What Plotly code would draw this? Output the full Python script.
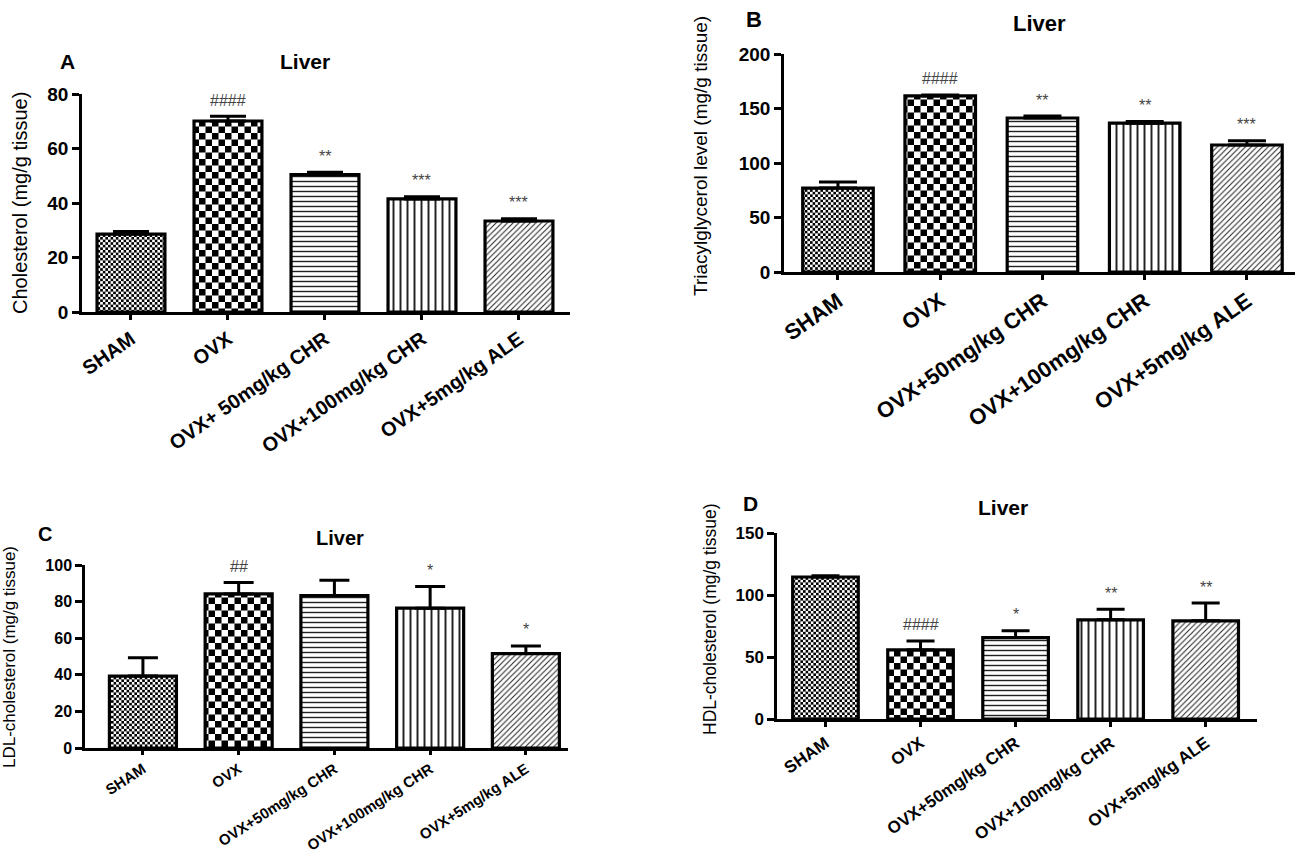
import plotly.graph_objects as go

# ---------------- data ----------------
groups_A = ["SHAM", "OVX", "OVX+ 50mg/kg CHR", "OVX+100mg/kg CHR", "OVX+5mg/kg ALE"]
groups_B = ["SHAM", "OVX", "OVX+50mg/kg CHR", "OVX+100mg/kg CHR", "OVX+5mg/kg ALE"]
groups_C = ["SHAM", "OVX", "OVX+50mg/kg CHR", "OVX+100mg/kg CHR", "OVX+5mg/kg ALE"]
groups_D = ["SHAM", "OVX", "OVX+50mg/kg CHR", "OVX+100mg/kg CHR", "OVX+5mg/kg ALE"]

chol_mean = [28.6, 70.1, 50.4, 41.5, 33.4]
chol_sem = [0.9, 1.7, 0.9, 0.8, 0.8]
tag_mean = [77.0, 161.5, 141.3, 136.5, 116.5]
tag_sem = [5.6, 0.9, 1.8, 1.5, 4.0]
ldl_mean = [39.3, 84.2, 83.3, 76.4, 51.6]
ldl_sem = [10.0, 6.2, 8.4, 11.8, 4.2]
hdl_mean = [114.5, 55.7, 65.7, 80.0, 79.2]
hdl_sem = [1.0, 7.3, 5.4, 8.6, 14.3]

sig_A = ["", "####", "**", "***", "***"]
sig_B = ["", "####", "**", "**", "***"]
sig_C = ["", "##", "", "*", "*"]
sig_D = ["", "####", "*", "**", "**"]

panel_letters = ["A", "B", "C", "D"]
panel_titles = ["Liver", "Liver", "Liver", "Liver"]
y_titles = ["Cholesterol (mg/g tissue)",
            "Triacylglycerol level (mg/g tissue)",
            "LDL-cholesterol (mg/g tissue)",
            "HDL-cholesterol (mg/g tissue)"]
y_ranges = [[0, 80], [0, 200], [0, 100], [0, 150]]
y_dticks = [20, 50, 20, 50]

W, H = 1307, 860

def px_x(p):
    return p / W

def px_y(p):
    return 1 - p / H

# layout styles per panel (pixel geometry)
panels = [
    dict(cats=groups_A, mean=chol_mean, sem=chol_sem, sig=sig_A,
         x0=82, x1=570, ytop=94, ybot=312, xr=[-0.505, 4.526], bw=0.70, cap=18,
         yfs=19, xfs=20, ang=-35, tl=5, letter=(67, 62), title=(305, 62), tfs=21,
         ytitle=(20, 203), ytfs=20),
    dict(cats=groups_B, mean=tag_mean, sem=tag_sem, sig=sig_B,
         x0=784, x1=1295, ytop=54, ybot=272, xr=[-0.528, 4.47], bw=0.69, cap=19,
         yfs=19, xfs=22, ang=-35, tl=5, letter=(754, 19), title=(1039, 23), tfs=22,
         ytitle=(700, 156), ytfs=19),
    dict(cats=groups_C, mean=ldl_mean, sem=ldl_sem, sig=sig_C,
         x0=85, x1=568, ytop=565, ybot=748, xr=[-0.605, 4.44], bw=0.70, cap=15,
         yfs=16, xfs=15, ang=-33, tl=4, letter=(45, 534), title=(340, 538), tfs=20,
         ytitle=(9, 657), ytfs=17),
    dict(cats=groups_D, mean=hdl_mean, sem=hdl_sem, sig=sig_D,
         x0=777, x1=1257, ytop=533, ybot=719, xr=[-0.51, 4.54], bw=0.69, cap=14,
         yfs=17, xfs=17, ang=-35, tl=5, letter=(750, 503), title=(1003, 507), tfs=21,
         ytitle=(710, 620), ytfs=17.5),
]

pat_shapes = ["x", "+", "-", "|", "/"]
pat_sizes = [4, 12, 5, 7, 4]
pat_solid = [0.5, 0.5, 0.28, 0.28, 0.25]

fig = go.Figure()
annotations = []
FONT = "Arial, Liberation Sans, sans-serif"

for i, p in enumerate(panels):
    n = "" if i == 0 else str(i + 1)
    xa, ya = "x" + n, "y" + n
    fig.add_trace(go.Bar(
        x=p["cats"], y=p["mean"], width=p["bw"],
        xaxis=xa, yaxis=ya, showlegend=False,
        marker=dict(color="white",
                    line=dict(color="black", width=3.2),
                    pattern=dict(shape=pat_shapes, size=pat_sizes,
                                 solidity=pat_solid, fgcolor="#222",
                                 bgcolor="white", fillmode="replace")),
        error_y=dict(type="data", symmetric=False, array=p["sem"],
                     arrayminus=[0] * len(p["sem"]), color="black",
                     thickness=3, width=p["cap"]),
    ))
    axis_common = dict(showline=True, linecolor="black", linewidth=2.5,
                       showgrid=False, zeroline=False, ticks="outside",
                       tickcolor="black", tickwidth=2.5, automargin=False)
    fig.update_layout(**{
        ("xaxis" + n): dict(domain=[px_x(p["x0"]), px_x(p["x1"])], anchor=ya,
                            type="category", range=p["xr"], ticklen=p["tl"],
                            tickangle=p["ang"],
                            tickfont=dict(family=FONT, size=p["xfs"], color="black",
                                          weight="bold"),
                            **axis_common),
        ("yaxis" + n): dict(domain=[px_y(p["ybot"]), px_y(p["ytop"])], anchor=xa,
                            range=y_ranges[i], dtick=y_dticks[i], ticklen=7,
                            tickfont=dict(family=FONT, size=p["yfs"], color="black",
                                          weight="bold"),
                            **axis_common),
    })
    for c, m, s, t in zip(p["cats"], p["mean"], p["sem"], p["sig"]):
        if t:
            annotations.append(dict(x=c, y=m + s, xref=xa, yref=ya, text=t,
                                    showarrow=False, yanchor="middle", yshift=16,
                                    font=dict(family=FONT, size=16, color="#444")))
    annotations.append(dict(x=px_x(p["letter"][0]), y=px_y(p["letter"][1]),
                            xref="paper", yref="paper", text=panel_letters[i],
                            showarrow=False, xanchor="center", yanchor="middle",
                            font=dict(family=FONT, size=p["tfs"], color="black",
                                      weight="bold")))
    annotations.append(dict(x=px_x(p["title"][0]), y=px_y(p["title"][1]),
                            xref="paper", yref="paper", text=panel_titles[i],
                            showarrow=False, xanchor="center", yanchor="middle",
                            font=dict(family=FONT, size=p["tfs"], color="black",
                                      weight="bold")))
    annotations.append(dict(x=px_x(p["ytitle"][0]), y=px_y(p["ytitle"][1]),
                            xref="paper", yref="paper", text=y_titles[i],
                            textangle=-90, showarrow=False,
                            xanchor="center", yanchor="middle",
                            font=dict(family=FONT, size=p["ytfs"], color="black")))

fig.update_layout(width=W, height=H, margin=dict(l=0, r=0, t=0, b=0),
                  paper_bgcolor="white", plot_bgcolor="white",
                  bargap=0.3, annotations=annotations)

post = """
var gd = document.getElementById('{plot_id}');
var ns = 'http://www.w3.org/2000/svg';
function addPat(defs, id, s) {
  var p = document.createElementNS(ns, 'pattern');
  p.setAttribute('id', id);
  p.setAttribute('patternUnits', 'userSpaceOnUse');
  p.setAttribute('width', 2 * s);
  p.setAttribute('height', 2 * s);
  var rects = [[0, 0, 2 * s, 2 * s, 'white'], [0, 0, s, s, 'black'], [s, s, s, s, 'black']];
  rects.forEach(function(r) {
    var e = document.createElementNS(ns, 'rect');
    e.setAttribute('x', r[0]); e.setAttribute('y', r[1]);
    e.setAttribute('width', r[2]); e.setAttribute('height', r[3]);
    e.setAttribute('fill', r[4]);
    p.appendChild(e);
  });
  defs.appendChild(p);
}
var defs = gd.querySelector('svg.main-svg defs');
if (defs) {
  addPat(defs, 'chkS', 2.6);
  addPat(defs, 'chkL', 6.5);
  gd.querySelectorAll('.barlayer .trace.bars').forEach(function(tr) {
    var pts = tr.querySelectorAll('.point path');
    if (pts[0]) pts[0].style.fill = 'url(#chkS)';
    if (pts[1]) pts[1].style.fill = 'url(#chkL)';
  });
}
"""

fig.write_html("out.html", post_script=post)
